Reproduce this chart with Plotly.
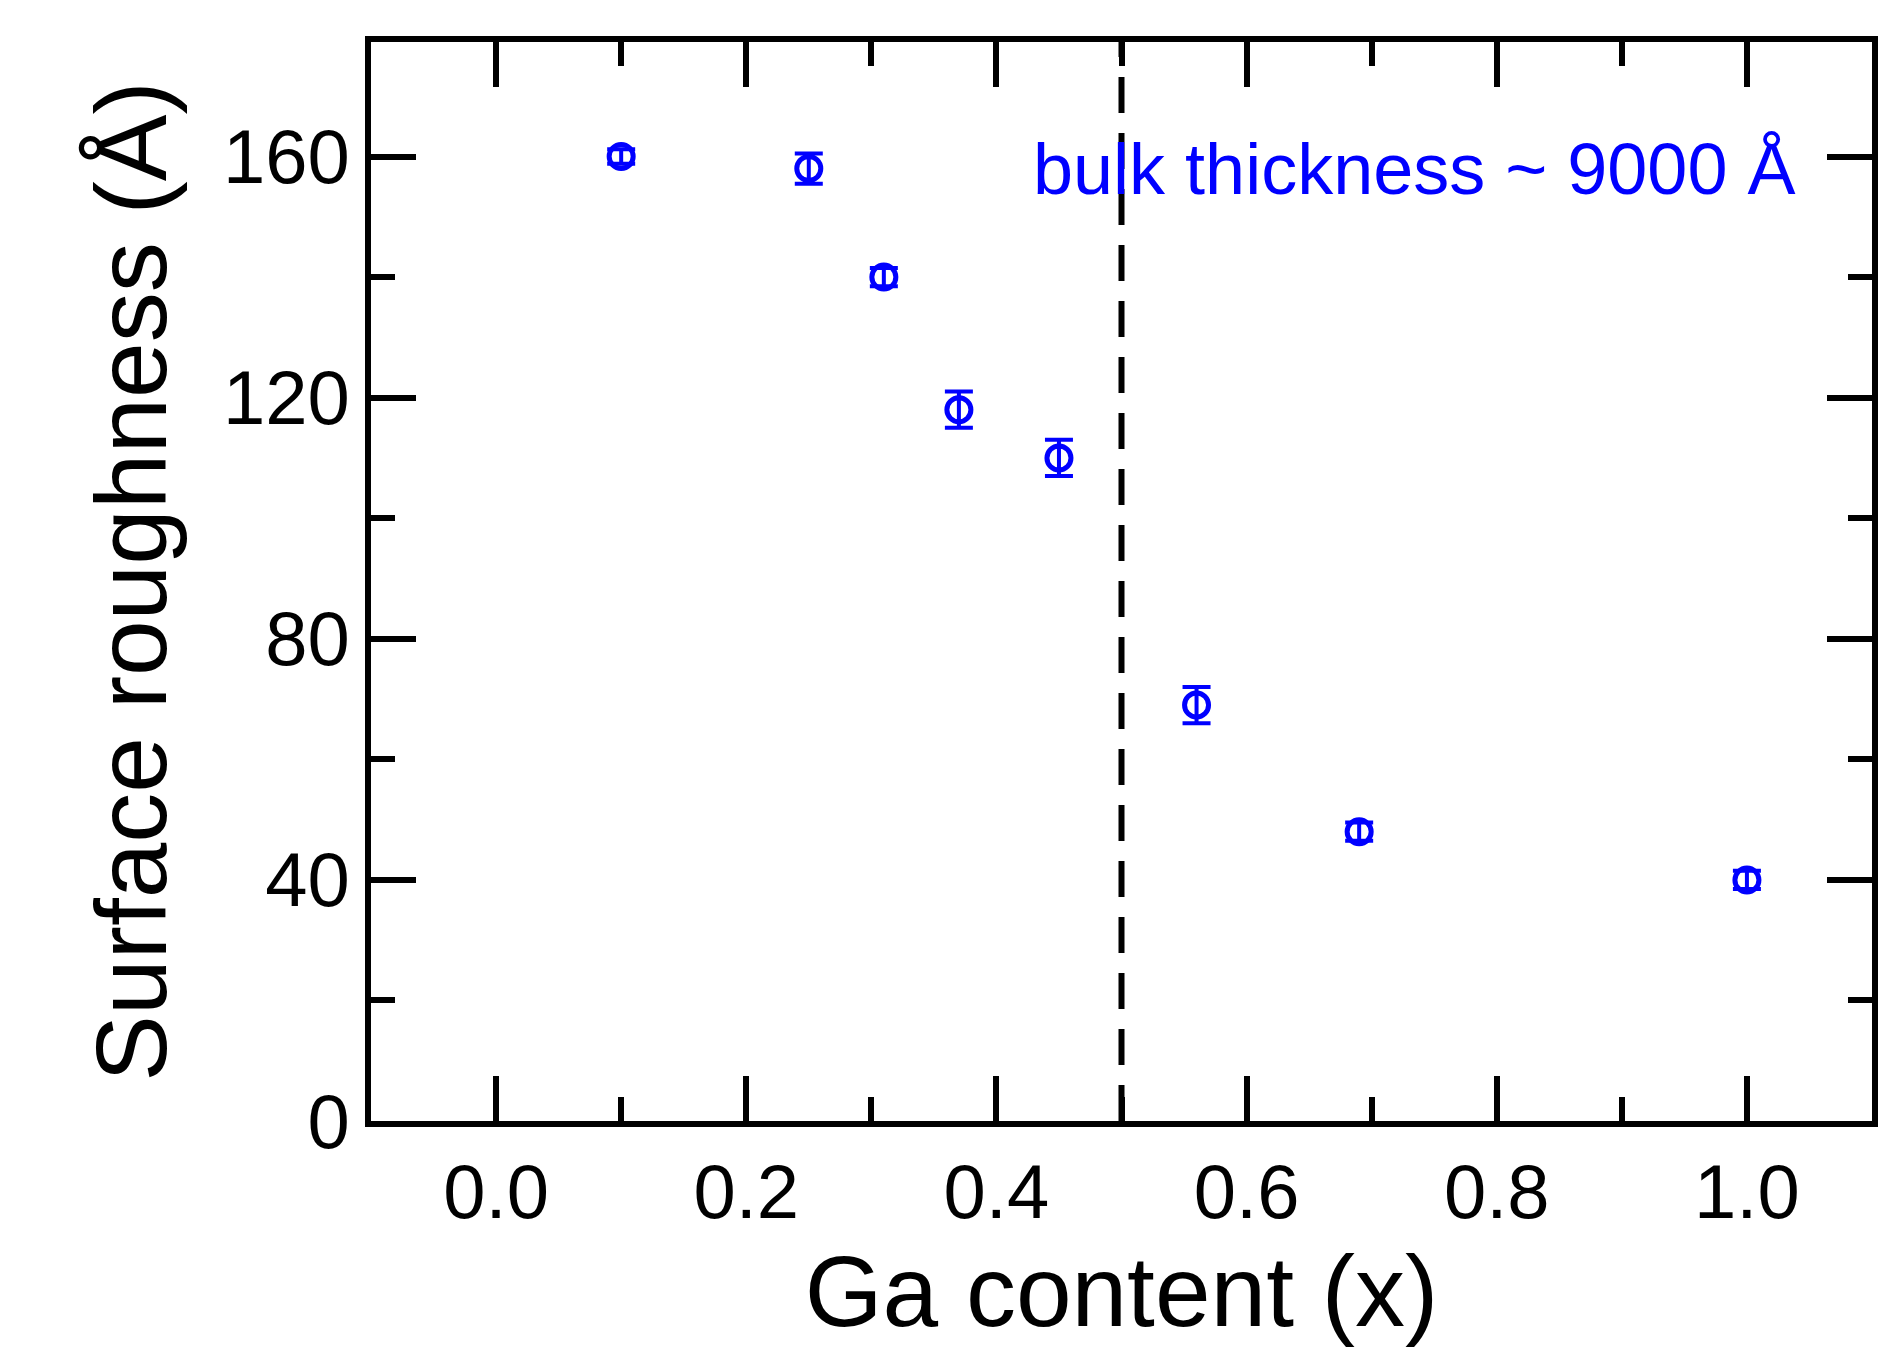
import plotly.graph_objects as go

ga_content = [0.10, 0.25, 0.31, 0.37, 0.45, 0.56, 0.69, 1.00]
roughness = [160, 158, 140, 118, 110, 69, 48, 40]
roughness_err = [1.2, 2.5, 1.5, 3.0, 3.0, 3.0, 1.5, 1.5]

blue = "#0000ff"
font = "Liberation Sans, Arial, sans-serif"

fig = go.Figure()
fig.add_trace(go.Scatter(
    x=ga_content, y=roughness,
    error_y=dict(type="data", array=roughness_err, color=blue, thickness=4, width=14),
    mode="markers",
    marker=dict(symbol="circle-open", size=24, color=blue, line=dict(width=5)),
    showlegend=False,
))

# dashed divider at x = 0.5
fig.add_shape(type="line", x0=0.5, x1=0.5, y0=0, y1=1, yref="y domain",
              line=dict(color="black", width=6, dash="36px,20px"))

fig.add_annotation(x=1.04, y=158, xanchor="right", yanchor="middle", showarrow=False,
                   text="bulk thickness ~ 9000 Å", font=dict(size=72, color=blue, family=font))

axis = dict(showline=True, linecolor="black", linewidth=6, mirror="ticks",
            ticks="inside", ticklen=45, tickwidth=6, tickcolor="black",
            showgrid=False, zeroline=False,
            tickfont=dict(size=76, color="black", family=font),
            minor=dict(ticks="inside", ticklen=24, tickwidth=6, tickcolor="black"))

fig.update_xaxes(range=[-0.1, 1.1], dtick=0.2, tickformat=".1f",
                 minor_dtick=0.1, title=dict(text="Ga content (x)", font=dict(size=100, family=font, color="black"), standoff=25), **axis)
fig.update_yaxes(range=[0, 179], dtick=40, minor_dtick=20,
                 title=dict(text="Surface roughness (Å)", font=dict(size=100, family=font, color="black"), standoff=25), **axis)

fig.update_layout(width=1903, height=1366, plot_bgcolor="white", paper_bgcolor="white",
                  margin=dict(l=363, r=39, t=34, b=253))

fig.write_html("out.html")
